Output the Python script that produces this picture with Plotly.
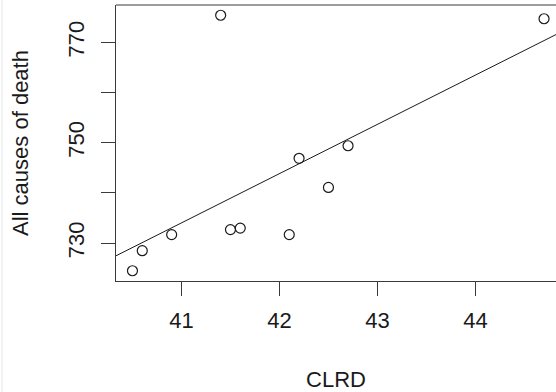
import numpy as np
import plotly.graph_objects as go

# Data
clrd = [40.5, 40.6, 40.9, 41.4, 41.5, 41.6, 42.1, 42.2, 42.5, 42.7, 44.7]
all_causes = [724.5, 728.5, 731.7, 775.4, 732.7, 733.0, 731.7, 746.9, 741.1, 749.4, 774.7]

x_ticks = [41, 42, 43, 44]
y_ticks = [730, 740, 750, 760, 770]
y_tick_labels = ["730", "", "750", "", "770"]

x_title = "CLRD"
y_title = "All causes of death"

X_RANGE = [40.332, 44.822]
Y_RANGE = [722.46, 777.44]

# least-squares regression line (as abline(lm(...)) in R)
slope, intercept = np.polyfit(clrd, all_causes, 1)
line_x = np.array(X_RANGE)
line_y = intercept + slope * line_x

FONT = "Arial, Liberation Sans, sans-serif"
INK = "#1a1a1a"
AXIS = "#3a3a3a"

fig = go.Figure()
fig.add_trace(go.Scatter(
    x=line_x, y=line_y, mode="lines",
    line=dict(color=INK, width=1), hoverinfo="skip", showlegend=False,
))
fig.add_trace(go.Scatter(
    x=clrd, y=all_causes, mode="markers",
    marker=dict(symbol="circle-open", size=10, color=INK, line=dict(width=1.2, color=INK)),
    showlegend=False, cliponaxis=False,
))

fig.update_layout(
    width=556, height=392,
    margin=dict(l=116, r=0, t=5, b=111),
    paper_bgcolor="white", plot_bgcolor="white",
    font=dict(family=FONT, size=22, color=INK),
    xaxis=dict(
        range=X_RANGE, tickvals=x_ticks, ticktext=[str(v) for v in x_ticks],
        ticks="outside", ticklen=14, tickwidth=1, tickcolor=AXIS,
        showline=True, linecolor=AXIS, linewidth=1, mirror=False,
        showgrid=False, zeroline=False, automargin=False,
        ticklabelstandoff=6,
        tickfont=dict(size=22, color=INK),
        title=dict(text=x_title, font=dict(size=22, color=INK), standoff=40),
    ),
    yaxis=dict(
        range=Y_RANGE, tickvals=y_ticks, ticktext=y_tick_labels,
        ticks="outside", ticklen=14, tickwidth=1, tickcolor=AXIS,
        showline=True, linecolor=AXIS, linewidth=1, mirror=False,
        showgrid=False, zeroline=False, tickangle=-90, automargin=False,
        ticklabelstandoff=8,
        tickfont=dict(size=22, color=INK),
        title=dict(text=y_title, font=dict(size=22, color=INK), standoff=29),
    ),
    shapes=[
        dict(type="line", xref="paper", yref="paper", x0=0, x1=1.05, y0=1, y1=1,
             line=dict(color=AXIS, width=1)),
        dict(type="line", xref="paper", yref="paper", x0=-0.259, x1=-0.259, y0=-0.41, y1=1.02,
             line=dict(color="#e4e6ea", width=1)),
    ],
)

fig.write_html(
    "out.html",
    config={"displayModeBar": False},
    post_script="document.body.style.margin='0';document.body.style.overflow='hidden';",
)
